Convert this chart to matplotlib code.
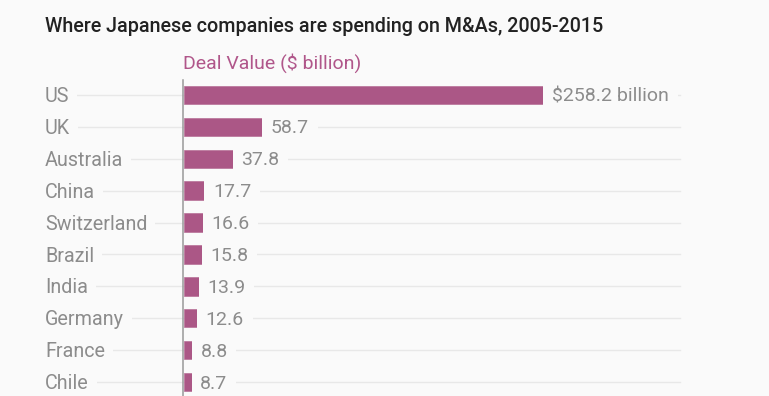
import matplotlib.pyplot as plt
from matplotlib.lines import Line2D

countries = ["US", "UK", "Australia", "China", "Switzerland", "Brazil",
             "India", "Germany", "France", "Chile"]
values = [258.2, 58.7, 37.8, 17.7, 16.6, 15.8, 13.9, 12.6, 8.8, 8.7]
value_labels = ["$258.2 billion", "58.7", "37.8", "17.7", "16.6", "15.8",
                "13.9", "12.6", "8.8", "8.7"]

bg = "#fafafa"
bar_color = "#ab5786"
gray = "#8c8c8c"

plt.rcParams['font.family'] = ['Roboto', 'DejaVu Sans']

fig = plt.figure(figsize=(7.69, 3.96), dpi=100, facecolor=bg)
W, H = 769, 396
px = 1.41  # pixels per billion
# axes from x=184 to 680 px, y=80 to 396 px
ax = fig.add_axes([184 / W, 0, (680 - 184) / W, (396 - 80) / H])
ax.set_facecolor(bg)

ypos = list(range(len(countries)))
ax.set_xlim(0, 496 / px)
ax.set_ylim(9.44, -0.47)

# gridlines across the whole row, from under the labels to the right edge
x_lab = -139 / px
for y in ypos:
    ax.add_line(Line2D([x_lab, ax.get_xlim()[1]], [y, y],
                       color="#e8e8e8", lw=1, zorder=0, clip_on=False))

ax.barh(ypos, values, height=0.58, color=bar_color, edgecolor="#b87098",
        lw=0.5, zorder=2)

dy = 0.05
for y, c in zip(ypos, countries):
    ax.text(x_lab, y + dy, c, ha="left", va="center", fontsize=14.2,
            color=gray, zorder=3,
            bbox=dict(boxstyle="square,pad=0.4", fc=bg, ec="none"))

for y, v, lab in zip(ypos, values, value_labels):
    ax.text(v + 4 / px, y + dy, lab, ha="left", va="center", fontsize=14,
            color=gray, zorder=3,
            bbox=dict(boxstyle="square,pad=0.45", fc=bg, ec="none"))

ax.axvline(-0.8 / px, color="#999999", lw=1.1, zorder=4, clip_on=False)
ax.set_xticks([])
ax.set_yticks([])
for s in ax.spines.values():
    s.set_visible(False)

fig.text(45 / W, 1 - 26 / H, "Where Japanese companies are spending on M&As, 2005-2015",
         ha="left", va="center", fontsize=14.2, color="#222222", fontweight="medium")
fig.text(183 / W, 1 - 63 / H, "Deal Value ($ billion)", ha="left", va="center",
         fontsize=14, color="#b0568a")

fig.savefig("out.png", dpi=100, facecolor=bg)
